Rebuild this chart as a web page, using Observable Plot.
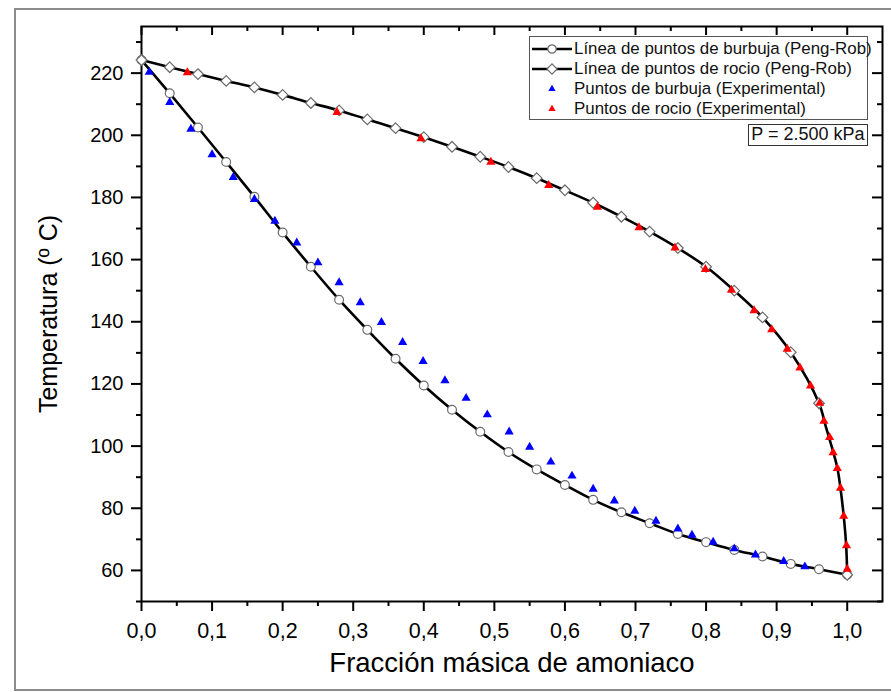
<!DOCTYPE html>
<html>
<head>
<meta charset="utf-8">
<script src="https://cdn.jsdelivr.net/npm/d3@7"></script>
<script src="https://cdn.jsdelivr.net/npm/@observablehq/plot@0.6"></script>
<style>
  body { margin: 0; background: #fff; font-family: "Liberation Sans", Arial, sans-serif; }
  #wrap { position: relative; width: 891px; height: 692px; overflow: hidden; background: #fff; }
  #border { position: absolute; left: 14px; top: 8px; width: 900px; height: 683px; border: 2px solid #8c8c8c; box-sizing: border-box; pointer-events: none; }
  #chart { position: absolute; left: 0; top: 0; }
  #legend { position: absolute; left: 529px; top: 36px; width: 339px; height: 84px; border: 1.5px solid #555; box-sizing: border-box; background: #fff; }
  .row { position: absolute; left: 0; height: 20px; width: 100%; }
  .row svg { position: absolute; left: 1px; top: 0; }
  .row span { position: absolute; left: 44px; top: 0; line-height: 20px; font-size: 16.9px; color: #111; white-space: nowrap; }
  #pbox { position: absolute; left: 748px; top: 124px; width: 120px; height: 22px; border: 1.5px solid #333; box-sizing: border-box; background: #fff; font-size: 18px; line-height: 19px; text-align: center; color: #111; white-space: nowrap; }
</style>
</head>
<body>
<div id="wrap">
  <div id="chart"></div>
  <div id="legend"></div>
  <div id="pbox"></div>
  <div id="border"></div>
</div>
<script>
// Bubble-point curve, Peng-Robinson (mass fraction of ammonia, temperature in °C)
const bubbleX = [0, 0.04, 0.08, 0.12, 0.16, 0.20, 0.24, 0.28, 0.32, 0.36, 0.40, 0.44, 0.48,
                 0.52, 0.56, 0.60, 0.64, 0.68, 0.72, 0.76, 0.80, 0.84, 0.88, 0.92, 0.96, 1.0];
const bubbleT = [224.2, 213.5, 202.5, 191.4, 180.2, 168.7, 157.7, 147.1, 137.4, 128.1, 119.5, 111.7, 104.6,
                 98.1, 92.5, 87.5, 82.7, 78.7, 75.2, 71.7, 69.1, 66.6, 64.5, 62.1, 60.4, 58.6];

// Dew-point curve, Peng-Robinson (marked points)
const dewX = [0, 0.04, 0.08, 0.12, 0.16, 0.20, 0.24, 0.28, 0.32, 0.36, 0.40, 0.44, 0.48,
              0.52, 0.56, 0.60, 0.64, 0.68, 0.72, 0.76, 0.80, 0.84, 0.88, 0.92, 0.96, 1.0];
const dewT = [224.2, 221.9, 219.7, 217.5, 215.4, 213.0, 210.4, 208.0, 205.1, 202.3, 199.4, 196.3, 193.1,
              189.8, 186.2, 182.3, 178.3, 173.8, 169.0, 163.7, 157.7, 150.0, 141.4, 130.2, 113.8, 58.6];
// Additional computed points of the dew curve near pure ammonia (unmarked)
const dewTailX = [0.97, 0.98, 0.986, 0.99, 0.995, 0.9985];
const dewTailT = [106.0, 98.2, 93.0, 87.2, 77.6, 68.0];

// Experimental bubble points
const expBubbleX = [0.011, 0.040, 0.070, 0.100, 0.130, 0.160, 0.189, 0.220, 0.250, 0.280, 0.310, 0.340,
                    0.370, 0.399, 0.430, 0.460, 0.490, 0.521, 0.550, 0.580, 0.610, 0.640, 0.670, 0.699,
                    0.729, 0.760, 0.780, 0.810, 0.840, 0.870, 0.910, 0.940];
const expBubbleT = [220.3, 210.6, 202.0, 193.8, 186.5, 179.4, 172.4, 165.4, 159.0, 152.6, 146.2, 139.8,
                    133.4, 127.3, 121.1, 115.4, 110.1, 104.6, 99.7, 94.9, 90.4, 86.2, 82.4, 79.1,
                    75.9, 73.4, 71.4, 69.1, 67.0, 65.0, 62.9, 61.2];

// Experimental dew points
const expDewX = [0.065, 0.277, 0.396, 0.495, 0.577, 0.646, 0.705, 0.756, 0.799, 0.836, 0.868, 0.893,
                 0.915, 0.933, 0.948, 0.961, 0.967, 0.975, 0.980, 0.986, 0.9905, 0.995, 0.999, 1.0];
const expDewT = [220.2, 207.4, 198.9, 191.4, 183.9, 176.9, 170.3, 163.8, 156.9, 150.2, 143.6, 137.5,
                 131.2, 125.2, 119.4, 113.8, 108.0, 102.8, 97.9, 92.8, 86.5, 77.5, 68.0, 60.4];

// Axis ticks
const xMajor = [0, 0.1, 0.2, 0.3, 0.4, 0.5, 0.6, 0.7, 0.8, 0.9, 1.0];
const xMinor = [0.05, 0.15, 0.25, 0.35, 0.45, 0.55, 0.65, 0.75, 0.85, 0.95];
const yMajor = [60, 80, 100, 120, 140, 160, 180, 200, 220];
const yMinor = [50, 70, 90, 110, 130, 150, 170, 190, 210, 230];

const xTitle = "Fracción másica de amoniaco";
const yTitle = "Temperatura (º C)";
const legendLabels = [
  "Línea de puntos de burbuja (Peng-Rob)",
  "Línea de puntos de rocio (Peng-Rob)",
  "Puntos de burbuja (Experimental)",
  "Puntos de rocio (Experimental)"
];
const pressureLabel = "P = 2.500 kPa";

const zip = (xs, ts) => xs.map((x, i) => ({x, t: ts[i]}));
const bubble = zip(bubbleX, bubbleT);
const dew = zip(dewX, dewT);
const dewLine = zip([...dewX.slice(0, -1), ...dewTailX, dewX[dewX.length - 1]],
                    [...dewT.slice(0, -1), ...dewTailT, dewT[dewT.length - 1]]);
const expBubble = zip(expBubbleX, expBubbleT);
const expDew = zip(expDewX, expDewT);

const W = 891, H = 692;
const mL = 141, mR = 9, mT = 26, mB = 91;
const FW = W - mL - mR, FH = H - mT - mB;
const fmt = d => d.toFixed(1).replace(".", ",");
const BLUE = "#0000ff", RED = "#ff0000", MARK = "#6a6a6a";

const chart = Plot.plot({
  width: W, height: H,
  marginLeft: mL, marginRight: mR, marginTop: mT, marginBottom: mB,
  style: {fontFamily: "'Liberation Sans', Arial, sans-serif", background: "transparent", color: "#000", overflow: "visible"},
  x: {domain: [0, 1.05]},
  y: {domain: [50, 235]},
  marks: [
    // bottom axis (outward) and top mirror ticks (inward)
    Plot.axisX({ticks: xMajor, tickSize: 10, tickPadding: 11, tickFormat: fmt, fontSize: 21.5, strokeWidth: 2, label: null}),
    Plot.tickX(xMinor, {x: d => d, insetTop: FH, insetBottom: -5, strokeWidth: 2}),
    Plot.tickX(xMajor, {x: d => d, insetBottom: FH - 9, strokeWidth: 2}),
    Plot.tickX(xMinor, {x: d => d, insetBottom: FH - 5, strokeWidth: 2}),
    // left axis (outward) and right mirror ticks (inward)
    Plot.axisY({ticks: yMajor, tickSize: 10, tickPadding: 8, fontSize: 20, strokeWidth: 2, label: null}),
    Plot.tickY(yMinor, {y: d => d, insetLeft: -5, insetRight: FW, strokeWidth: 2}),
    Plot.tickY(yMajor, {y: d => d, insetLeft: FW - 10, strokeWidth: 2}),
    Plot.tickY(yMinor, {y: d => d, insetLeft: FW - 5, strokeWidth: 2}),
    Plot.frame({stroke: "#000", strokeWidth: 2}),
    // model curves
    Plot.line(bubble, {x: "x", y: "t", stroke: "#000", strokeWidth: 2.6, curve: "catmull-rom"}),
    Plot.line(dewLine, {x: "x", y: "t", stroke: "#000", strokeWidth: 2.6, curve: "catmull-rom"}),
    Plot.dot(bubble, {x: "x", y: "t", symbol: "circle", r: 4.4, fill: "#fff", stroke: MARK, strokeWidth: 1.2}),
    Plot.dot(dew, {x: "x", y: "t", symbol: "diamond2", r: 4.8, fill: "#fff", stroke: MARK, strokeWidth: 1.2}),
    // experimental points
    Plot.dot(expBubble, {x: "x", y: "t", symbol: "triangle", r: 3.4, fill: BLUE}),
    Plot.dot(expDew, {x: "x", y: "t", symbol: "triangle", r: 3.4, fill: RED}),
    // axis titles
    Plot.text([xTitle], {text: d => d, frameAnchor: "bottom", dy: 70, fontSize: 27.5, fill: "#000"}),
    Plot.text([yTitle], {text: d => d, frameAnchor: "left", textAnchor: "middle", dx: -93, rotate: -90, fontSize: 25, fill: "#000"})
  ]
});
document.getElementById("chart").appendChild(chart);

// Legend inside the plot area
const legend = d3.select("#legend");
const symbols = [
  {shape: "circle", fill: "#fff", stroke: MARK, line: true, size: 4.2},
  {shape: "diamond2", fill: "#fff", stroke: MARK, line: true, size: 4.6},
  {shape: "triangle", fill: BLUE, stroke: "none", line: false, size: 2.7},
  {shape: "triangle", fill: RED, stroke: "none", line: false, size: 2.7}
];
const symType = {circle: d3.symbolCircle, diamond2: d3.symbolDiamond2, triangle: d3.symbolTriangle};
legendLabels.forEach((label, i) => {
  const s = symbols[i];
  const row = legend.append("div").attr("class", "row").style("top", `${2 + i * 20}px`);
  const svg = row.append("svg").attr("width", 42).attr("height", 20);
  if (s.line) svg.append("line").attr("x1", 1).attr("x2", 41).attr("y1", 10).attr("y2", 10)
    .attr("stroke", "#000").attr("stroke-width", 2.6);
  svg.append("path")
    .attr("transform", "translate(21,10)")
    .attr("d", d3.symbol(symType[s.shape], Math.PI * s.size * s.size)())
    .attr("fill", s.fill).attr("stroke", s.stroke).attr("stroke-width", 1.2);
  row.append("span").text(label);
});
d3.select("#pbox").text(pressureLabel);
</script>
</body>
</html>
